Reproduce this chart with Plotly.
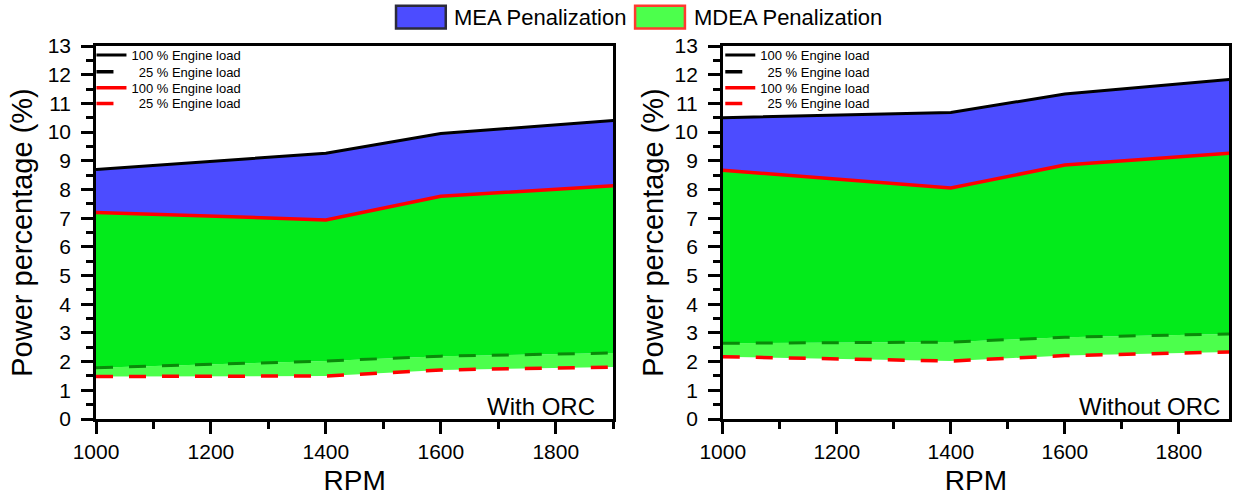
import plotly.graph_objects as go
from plotly.subplots import make_subplots

# Engine speed (RPM) at which the penalizations were evaluated
rpm = [1000, 1400, 1600, 1900]

# Power penalization (%) with ORC
orc_mea_100 = [8.70, 9.26, 9.95, 10.40]
orc_mdea_100 = [7.20, 6.94, 7.76, 8.13]
orc_mea_25 = [1.79, 2.02, 2.19, 2.30]
orc_mdea_25 = [1.48, 1.50, 1.71, 1.81]

# Power penalization (%) without ORC
no_orc_mea_100 = [10.50, 10.68, 11.33, 11.85]
no_orc_mdea_100 = [8.67, 8.05, 8.85, 9.28]
no_orc_mea_25 = [2.64, 2.68, 2.85, 2.97]
no_orc_mdea_25 = [2.17, 2.02, 2.21, 2.34]

panel_labels = ["With ORC", "Without ORC"]
load_100 = "100 % Engine load"
load_25 = "\u00a0\u00a025 % Engine load"
x_ticks = [1000, 1200, 1400, 1600, 1800]

FONT = "Arial, Liberation Sans, sans-serif"
BLUE = "#4c4cff"
GREEN = "#03eb1b"
LIGHT_GREEN = "#4cff4c"
DARK_GREEN = "#0a8a0a"
RED = "#ff0000"
DASH = "17px,16px"

fig = make_subplots(rows=1, cols=2, horizontal_spacing=0.0)

panels = [
    (orc_mea_100, orc_mdea_100, orc_mea_25, orc_mdea_25),
    (no_orc_mea_100, no_orc_mdea_100, no_orc_mea_25, no_orc_mdea_25),
]

# one single-entry legend per key row, so the rows can sit tightly together
legend_ids = [["legend2", "legend3", "legend4", "legend5"],
              ["legend6", "legend7", "legend8", "legend9"]]

for col, (mea100, mdea100, mea25, mdea25) in enumerate(panels, start=1):
    leg = legend_ids[col - 1]
    # stacked fill bands between the four curves
    fig.add_trace(go.Scatter(x=rpm, y=mdea25, mode="lines", line=dict(width=0),
                             showlegend=False, hoverinfo="skip"), row=1, col=col)
    fig.add_trace(go.Scatter(x=rpm, y=mea25, mode="lines", line=dict(width=0),
                             fill="tonexty", fillcolor=LIGHT_GREEN,
                             showlegend=False, hoverinfo="skip"), row=1, col=col)
    fig.add_trace(go.Scatter(x=rpm, y=mdea100, mode="lines", line=dict(width=0),
                             fill="tonexty", fillcolor=GREEN,
                             showlegend=False, hoverinfo="skip"), row=1, col=col)
    fig.add_trace(go.Scatter(x=rpm, y=mea100, mode="lines", line=dict(width=0),
                             fill="tonexty", fillcolor=BLUE,
                             showlegend=False, hoverinfo="skip"), row=1, col=col)

    # boundary curves
    fig.add_trace(go.Scatter(x=rpm, y=mea25, mode="lines",
                             line=dict(color=DARK_GREEN, width=3, dash=DASH),
                             showlegend=False), row=1, col=col)
    fig.add_trace(go.Scatter(x=rpm, y=mdea25, mode="lines", name=load_25,
                             line=dict(color=RED, width=3.5, dash=DASH),
                             legend=leg[3]), row=1, col=col)
    fig.add_trace(go.Scatter(x=rpm, y=mdea100, mode="lines", name=load_100,
                             line=dict(color=RED, width=3.5),
                             legend=leg[2]), row=1, col=col)
    fig.add_trace(go.Scatter(x=rpm, y=mea100, mode="lines", name=load_100,
                             line=dict(color="black", width=3),
                             legend=leg[0]), row=1, col=col)
    # legend key for the 25 % MEA curve (drawn black in the key)
    fig.add_trace(go.Scatter(x=[None], y=[None], mode="lines", name=load_25,
                             line=dict(color="black", width=3.5, dash=DASH),
                             legend=leg[1]), row=1, col=col)

axis_common = dict(
    showline=True, linecolor="black", linewidth=2.5, mirror=True,
    showgrid=False, zeroline=False,
    ticks="outside", tickcolor="black", tickwidth=2.5,
    tickfont=dict(family=FONT, size=21, color="black"),
)

x_ranges = [[1000, 1900], [1000, 1888]]
y_title_standoff = [7, 3]
for col in (1, 2):
    fig.update_xaxes(
        range=x_ranges[col - 1], tickvals=x_ticks, ticklen=12,
        minor=dict(dtick=100, tick0=1000, ticks="outside", ticklen=7,
                   tickwidth=2.5, tickcolor="black"),
        ticklabelstandoff=0,
        title=dict(text="RPM", font=dict(family=FONT, size=28, color="black"),
                   standoff=9),
        **axis_common, row=1, col=col)
    fig.update_yaxes(
        range=[0, 13], dtick=1, tick0=0, ticklen=12,
        minor=dict(dtick=0.5, tick0=0, ticks="outside", ticklen=7,
                   tickwidth=2.5, tickcolor="black"),
        ticklabelstandoff=6,
        title=dict(text="Power percentage (%)",
                   font=dict(family=FONT, size=29, color="black"),
                   standoff=y_title_standoff[col - 1]),
        **axis_common, row=1, col=col)

fig.update_layout(
    xaxis=dict(domain=[0.0, 0.4565]),
    xaxis2=dict(domain=[0.5532, 1.0]),
)

# corner labels
annots = [
    dict(text=panel_labels[0], xref="x domain", yref="y domain", x=0.969, y=0.0,
         xanchor="right", yanchor="bottom", yshift=-3, showarrow=False,
         font=dict(family=FONT, size=24, color="black")),
    dict(text=panel_labels[1], xref="x2 domain", yref="y2 domain", x=0.986, y=0.0,
         xanchor="right", yanchor="bottom", yshift=-3, showarrow=False,
         font=dict(family=FONT, size=24, color="black")),
    dict(text="MEA Penalization", xref="paper", yref="paper", x=0.314, y=1.0777,
         xanchor="left", yanchor="middle", showarrow=False,
         font=dict(family=FONT, size=22, color="black")),
    dict(text="MDEA Penalization", xref="paper", yref="paper", x=0.526, y=1.0777,
         xanchor="left", yanchor="middle", showarrow=False,
         font=dict(family=FONT, size=22, color="black")),
]

# swatches of the shared legend
shapes = [
    dict(type="rect", xref="paper", yref="paper", x0=0.2648, x1=0.3087,
         y0=1.0471, y1=1.1082, fillcolor=BLUE, line=dict(color="#2b2b3b", width=2.5)),
    dict(type="rect", xref="paper", yref="paper", x0=0.4758, x1=0.5198,
         y0=1.0471, y1=1.1082, fillcolor=LIGHT_GREEN, line=dict(color="#ff3a2e", width=2.5)),
]

legend_style = dict(
    yanchor="middle", xanchor="left", bgcolor="rgba(0,0,0,0)",
    borderwidth=0, itemwidth=30, tracegroupgap=0,
    font=dict(family=FONT, size=13, color="black"),
)

# vertical placement of the four key rows (paper units) and panel x origins
row_y = [0.976, 0.931, 0.888, 0.846]
panel_x = [-0.004, 0.5510]
legend_layout = {}
for p in range(2):
    for r in range(4):
        legend_layout[legend_ids[p][r]] = dict(x=panel_x[p], y=row_y[r], **legend_style)

fig.update_layout(
    width=1238, height=498,
    margin=dict(l=96, r=6, t=46, b=76),
    paper_bgcolor="white", plot_bgcolor="white",
    showlegend=True,
    annotations=annots, shapes=shapes,
    **legend_layout,
)

fig.write_html("out.html")
